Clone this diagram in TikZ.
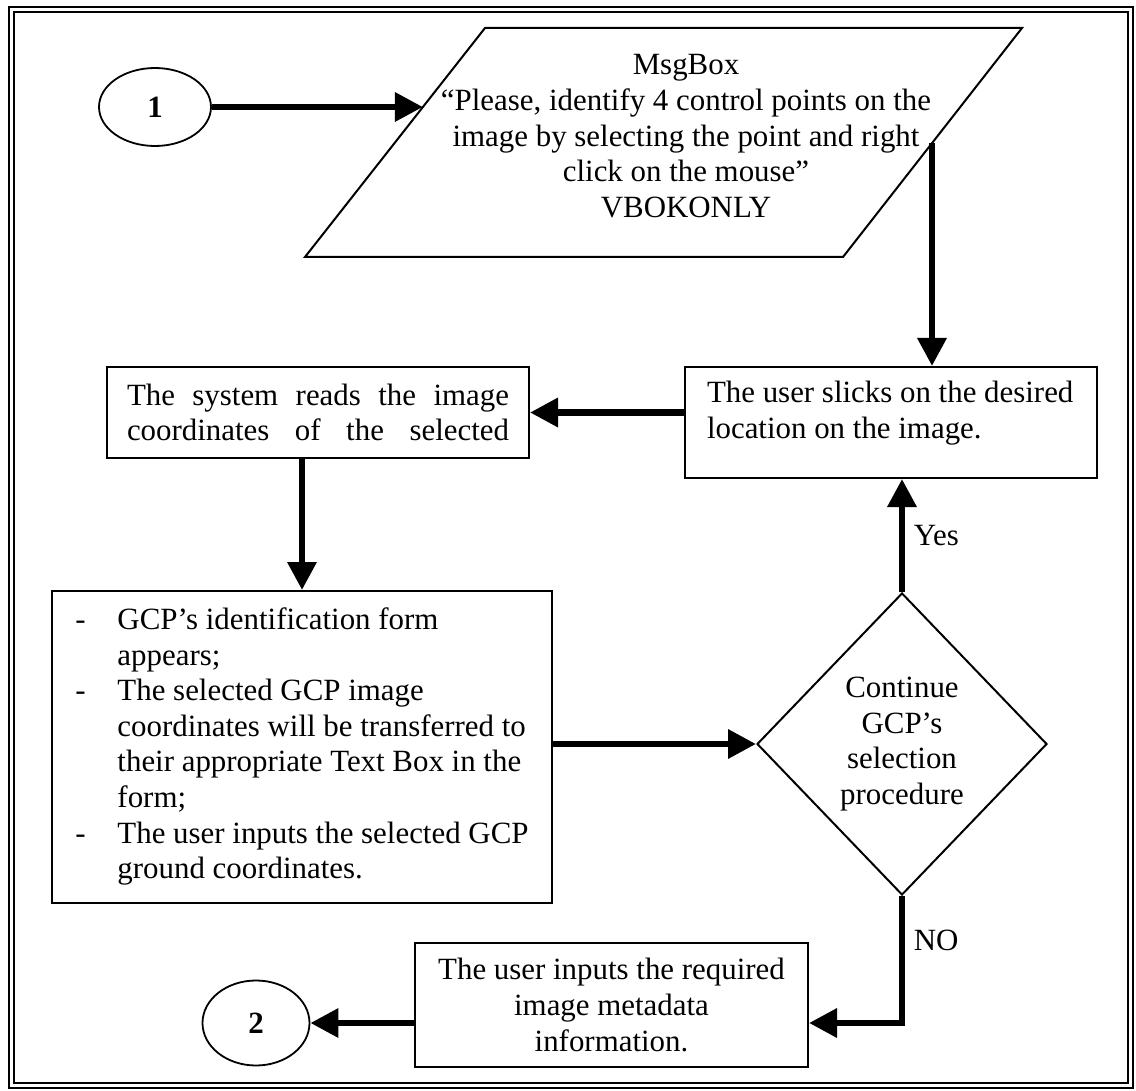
\documentclass[tikz,border=0pt]{standalone}
\usepackage{fontspec}
\setmainfont{Liberation Serif}
\usetikzlibrary{shapes.geometric,arrows.meta}

\begin{document}
\begin{tikzpicture}[x=0.5pt,y=-0.5pt,
		every node/.style={font=\fontsize{15.45}{17.8}\selectfont},
		terminal/.style={draw,ellipse,line width=0.9pt,inner sep=0pt,font=\fontsize{15.45}{17.8}\selectfont\bfseries},
		procbox/.style={draw,rectangle,line width=1pt,inner sep=0pt},
		decision/.style={draw,diamond,line width=1pt,inner sep=0pt,align=center},
		conn/.style={->,line width=3.2pt},
		>={Triangle[length=14pt,width=14pt]}]
		\useasboundingbox (0,0) rectangle (1136,1091);
		
		% double frame
		\draw[line width=1.2pt] (9,7) rectangle (1133,1088);
		\draw[line width=0.8pt] (14,12) rectangle (1128,1083);
		
		% message box (parallelogram)
		\draw[line width=1pt] (485,28) -- (1022,28) -- (843,257) -- (305,257) -- cycle;
		\coordinate (msgin) at (422.9,107);
		\coordinate (msgout) at (932,143.2);
		\node (msg) at (686,139)
			{\begin{tabular}{@{}c@{}}MsgBox\\
				“Please, identify 4 control points on the\\
				image by selecting the point and right\\
				click on the mouse”\\
				VBOKONLY\end{tabular}};
		
		\node[terminal,minimum width=56pt,minimum height=39pt] (one) at (155,107) {1};
		\node[procbox,inner xsep=11pt,inner ysep=7pt] (slicks) at (891,422.5)
			{\parbox[c][41.5pt][t]{184pt}{\raggedright The user slicks on the desired\\location on the image.}};
		\node[procbox,minimum width=211pt,minimum height=45.5pt,align=left] (sys) at (318,412.5)
			{\makebox[191pt][s]{The system reads the image}\\
			 \makebox[191pt][s]{coordinates of the selected}};
		\node[procbox,minimum width=250pt,minimum height=156pt] (gcp) at (302,747)
			{\begin{tabular}{@{}p{21pt}@{}l@{}}
				- & GCP’s identification form\\
				  & appears;\\
				- & The selected GCP image\\
				  & coordinates will be transferred to\\
				  & their appropriate Text Box in the\\
				  & form;\\
				- & The user inputs the selected GCP\\
				  & ground coordinates.
			\end{tabular}};
		\node[decision,minimum width=145pt,minimum height=151pt] (dec) at (902,744)
			{Continue\\GCP’s\\selection\\procedure};
		\node[procbox,minimum width=196.5pt,minimum height=62pt,align=center] (endbox) at (611.5,1005)
			{The user inputs the required\\image metadata\\information.};
		\node[terminal,minimum width=53.5pt,minimum height=42.5pt] (two) at (256,1023) {2};
		
		\draw[conn] (one.east) -- (msgin);
		\draw[conn] (msgout) -- (msgout |- slicks.north);
		\draw[conn] (slicks.west |- sys.east) -- (sys.east);
		\draw[conn] (sys.south -| gcp.north) -- (gcp.north);
		\draw[conn] (gcp.east |- dec.west) -- (dec.west);
		\draw[conn] (dec.north) -- node[right,xshift=1pt]{Yes} (dec.north |- slicks.south);
		\draw[conn] (dec.south) |- node[pos=0.175,right,xshift=1pt]{NO} (endbox.east |- two);
		\draw[conn] (endbox.west |- two) -- (two.east);
\end{tikzpicture}
\end{document}
